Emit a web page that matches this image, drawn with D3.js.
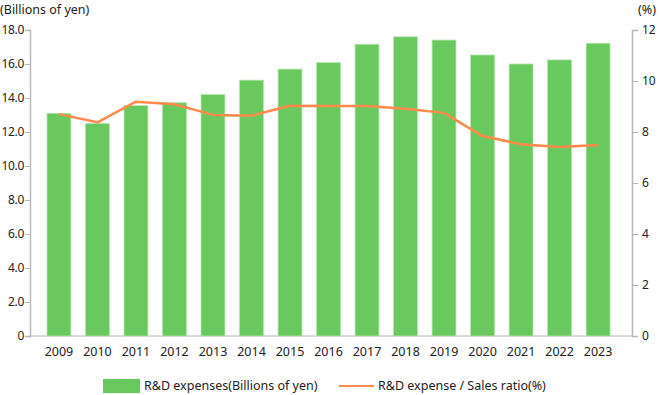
<!DOCTYPE html>
<html>
<head>
<meta charset="utf-8">
<script src="https://cdn.jsdelivr.net/npm/d3@7"></script>
<style>
  body { margin: 0; background: #fff; }
  text { font-family: "Noto Sans", sans-serif; fill: #222; }
</style>
</head>
<body>
<div id="chart"></div>
<script>
// data
var years = ['2009', '2010', '2011', '2012', '2013', '2014', '2015', '2016',
    '2017', '2018', '2019', '2020', '2021', '2022', '2023'];
var expenses = [13.1, 12.5, 13.55, 13.72, 14.2, 15.05, 15.7, 16.08,
    17.16, 17.6, 17.41, 16.53, 16.0, 16.24, 17.22];
var ratios = [8.7, 8.38, 9.19, 9.09, 8.67, 8.64, 9.03, 9.02,
    9.02, 8.91, 8.75, 7.84, 7.52, 7.41, 7.49];
var leftTicks = [0, 2, 4, 6, 8, 10, 12, 14, 16, 18];
var rightTicks = [0, 2, 4, 6, 8, 10, 12];

var svgWidth = 659;
var svgHeight = 395;

// plot box
var plot = { left: 30, right: 632, top: 30, bottom: 336 };

var svg = d3.select('#chart')
    .append('svg')
    .attr('width', svgWidth)
    .attr('height', svgHeight);

// scales
var xScale = d3.scaleBand()
    .domain(years)
    .range([47, 610])
    .paddingInner(0.38)
    .paddingOuter(0);

var yLeft = d3.scaleLinear().domain([0, 18]).range([plot.bottom, plot.top]);
var yRight = d3.scaleLinear().domain([0, 12]).range([plot.bottom, plot.top]);

var axisColor = '#b8b8b8';

// bottom baseline
svg.append('line')
    .attr('x1', plot.left).attr('x2', plot.right)
    .attr('y1', plot.bottom).attr('y2', plot.bottom)
    .attr('stroke', axisColor);

// left axis
var leftAxis = svg.append('g')
    .attr('transform', `translate(${plot.left}, 0)`)
    .call(d3.axisLeft(yLeft).tickValues(leftTicks).tickSize(5).tickPadding(1)
        .tickFormat(d => d === 0 ? '0' : d3.format('.1f')(d)));

// right axis
var rightAxis = svg.append('g')
    .attr('transform', `translate(${plot.right}, 0)`)
    .call(d3.axisRight(yRight).tickValues(rightTicks).tickSize(6).tickPadding(4));

[leftAxis, rightAxis].forEach(function(g) {
    g.select('.domain').attr('stroke', axisColor).attr('stroke-width', 1.5);
    g.selectAll('.tick line').attr('stroke', axisColor);
    g.selectAll('.tick text').style('font-size', '12px').attr('fill', '#222');
});
leftAxis.selectAll('.tick text').style('letter-spacing', '-0.3px');

// x labels
var xAxis = svg.append('g')
    .attr('transform', `translate(0, ${plot.bottom})`)
    .call(d3.axisBottom(xScale).tickSize(0).tickPadding(11));
xAxis.select('.domain').remove();
xAxis.selectAll('.tick text').style('font-size', '12.5px').attr('fill', '#222');

// bars
svg.selectAll('rect.bar')
    .data(expenses)
    .enter()
    .append('rect')
    .attr('class', 'bar')
    .attr('x', (d, i) => xScale(years[i]))
    .attr('y', d => yLeft(d))
    .attr('width', xScale.bandwidth())
    .attr('height', d => plot.bottom - yLeft(d))
    .attr('fill', '#69c95e')
    .attr('stroke', '#b4e4ad')
    .attr('stroke-width', 0.8);

// ratio line
var line = d3.line()
    .x((d, i) => xScale(years[i]) + xScale.bandwidth() / 2)
    .y(d => yRight(d));

svg.append('path')
    .datum(ratios)
    .attr('d', line)
    .attr('fill', 'none')
    .attr('stroke', '#ff8a4c')
    .attr('stroke-width', 2.5)
    .attr('stroke-linejoin', 'round');

// axis titles
svg.append('text')
    .attr('x', 0).attr('y', 14)
    .style('font-size', '12.5px')
    .text('(Billions of yen)');

svg.append('text')
    .attr('x', 656).attr('y', 14)
    .attr('text-anchor', 'end')
    .style('font-size', '12.5px')
    .text('(%)');

// legend
svg.append('rect')
    .attr('x', 103).attr('y', 379)
    .attr('width', 37).attr('height', 14)
    .attr('fill', '#69c95e');
svg.append('text')
    .attr('x', 144).attr('y', 390)
    .style('font-size', '12.5px')
    .text('R&D expenses(Billions of yen)');

svg.append('line')
    .attr('x1', 339).attr('x2', 374)
    .attr('y1', 386).attr('y2', 386)
    .attr('stroke', '#ff8a4c')
    .attr('stroke-width', 2);
svg.append('text')
    .attr('x', 378).attr('y', 390)
    .style('font-size', '12.5px')
    .text('R&D expense / Sales ratio(%)');
</script>
</body>
</html>
